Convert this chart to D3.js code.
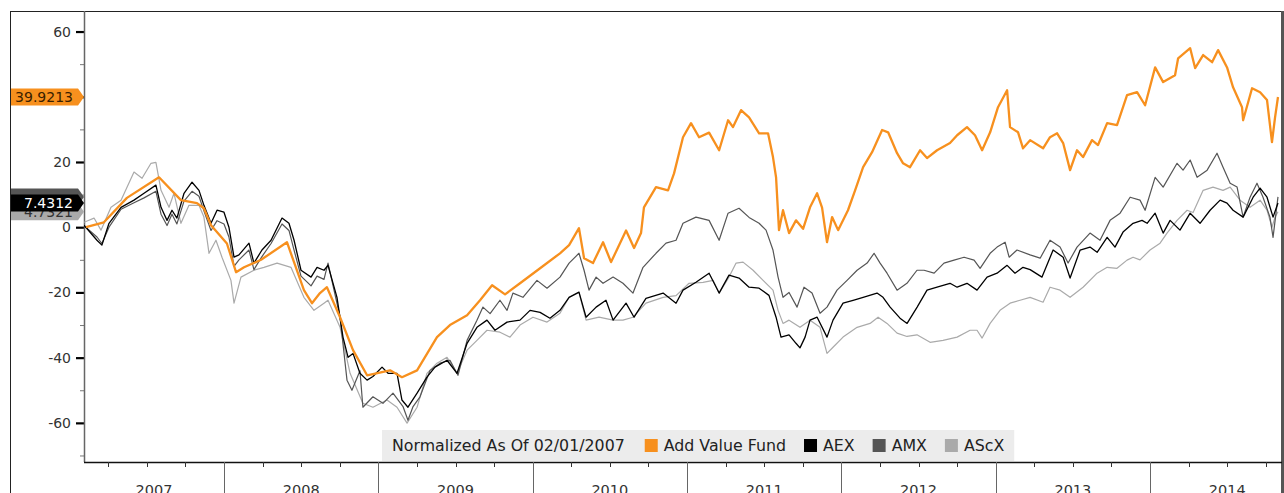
<!DOCTYPE html>
<html>
<head>
<meta charset="utf-8">
<script src="https://cdn.jsdelivr.net/npm/d3@7"></script>
<style>
  body { margin: 0; background: #fff; }
  svg { display: block; font-family: "DejaVu Sans", Verdana, sans-serif; }
</style>
</head>
<body>
<svg id="chart" width="1284" height="493"></svg>
<script>
// dates as decimal years, values normalized to 0 at 02/01/2007
const fundYears = [2007.106, 2007.222, 2007.371, 2007.579, 2007.721, 2007.825, 2007.870, 2007.916, 2008.019, 2008.078,
  2008.130, 2008.240, 2008.408, 2008.518, 2008.570, 2008.622, 2008.667, 2008.752, 2008.836, 2008.927,
  2009.076, 2009.153, 2009.251, 2009.380, 2009.464, 2009.575, 2009.659, 2009.737, 2009.821, 2009.918,
  2010.048, 2010.177, 2010.236, 2010.300, 2010.333, 2010.391, 2010.456, 2010.508, 2010.605, 2010.657,
  2010.702, 2010.721, 2010.799, 2010.877, 2010.916, 2010.974, 2011.026, 2011.078, 2011.143, 2011.208,
  2011.266, 2011.298, 2011.350, 2011.402, 2011.467, 2011.525, 2011.557, 2011.577, 2011.596, 2011.622,
  2011.661, 2011.706, 2011.752, 2011.797, 2011.843, 2011.875, 2011.907, 2011.940, 2011.979, 2012.043,
  2012.089, 2012.141, 2012.199, 2012.264, 2012.303, 2012.361, 2012.400, 2012.445, 2012.510, 2012.555,
  2012.620, 2012.704, 2012.750, 2012.814, 2012.866, 2012.912, 2012.964, 2013.015, 2013.074, 2013.093,
  2013.145, 2013.177, 2013.223, 2013.307, 2013.352, 2013.398, 2013.437, 2013.482, 2013.527, 2013.566,
  2013.624, 2013.663, 2013.722, 2013.786, 2013.851, 2013.916, 2013.968, 2014.033, 2014.085, 2014.162,
  2014.182, 2014.260, 2014.292, 2014.344, 2014.402, 2014.441, 2014.499, 2014.538, 2014.596, 2014.603,
  2014.661, 2014.713, 2014.758, 2014.790, 2014.810, 2014.829];
const fundValues = [0, 1.5, 9, 15.3, 8.3, 7.4, 5.8, 0.6, -5, -13.8,
  -12.3, -10, -4.6, -19.3, -23.3, -20.2, -18.4, -27.6, -37.7, -45.4,
  -43.9, -46, -43.9, -33.7, -30, -27, -22.4, -17.8, -20.6, -17.2,
  -12.6, -8, -5.5, -0.3, -9.5, -11, -4.6, -10.7, -1, -6.4,
  -1.8, 6.1, 12.3, 11.3, 16.5, 27.6, 31.9, 27.6, 29, 23.6,
  32.8, 30.7, 35.9, 33.7, 28.8, 28.8, 21.5, 15.3, -0.9, 5.2,
  -1.8, 2.1, -0.5, 6.1, 10.4, 6, -4.6, 3.1, -0.9, 5.2,
  11.3, 18.4, 23, 29.8, 29.1, 22.7, 19.6, 18.4, 23.6, 21.2,
  23.6, 25.8, 28.2, 30.7, 28.2, 23.6, 29.1, 36.8, 42, 30.7,
  29.1, 24.2, 26.7, 24.2, 27.6, 28.8, 25.8, 17.5, 23.6, 21.5,
  26.7, 25.2, 31.9, 31.3, 40.5, 41.4, 37.4, 49, 44.5, 46.6,
  51.8, 54.9, 48.8, 52.8, 50.6, 54.3, 49, 42.9, 36.8, 32.8,
  42.6, 41.4, 39, 26.1, 33.7, 39.9213];

const aexYears = [2007.093, 2007.177, 2007.209, 2007.255, 2007.333, 2007.417, 2007.482, 2007.559, 2007.592, 2007.631,
  2007.663, 2007.695, 2007.741, 2007.793, 2007.838, 2007.870, 2007.916, 2007.955, 2008.000, 2008.032,
  2008.065, 2008.097, 2008.162, 2008.194, 2008.246, 2008.305, 2008.376, 2008.421, 2008.454, 2008.499,
  2008.564, 2008.603, 2008.648, 2008.674, 2008.732, 2008.771, 2008.804, 2008.836, 2008.881, 2008.927,
  2008.965, 2009.024, 2009.063, 2009.121, 2009.153, 2009.192, 2009.251, 2009.315, 2009.367, 2009.445,
  2009.510, 2009.575, 2009.639, 2009.704, 2009.756, 2009.834, 2009.918, 2009.983, 2010.048, 2010.112,
  2010.177, 2010.236, 2010.300, 2010.346, 2010.411, 2010.475, 2010.521, 2010.605, 2010.657, 2010.734,
  2010.845, 2010.929, 2010.974, 2011.058, 2011.143, 2011.208, 2011.272, 2011.337, 2011.402, 2011.467,
  2011.531, 2011.577, 2011.609, 2011.661, 2011.706, 2011.732, 2011.765, 2011.797, 2011.843, 2011.907,
  2011.946, 2012.011, 2012.076, 2012.141, 2012.231, 2012.270, 2012.316, 2012.380, 2012.426, 2012.491,
  2012.555, 2012.620, 2012.704, 2012.750, 2012.814, 2012.879, 2012.944, 2013.009, 2013.074, 2013.125,
  2013.177, 2013.223, 2013.300, 2013.372, 2013.437, 2013.482, 2013.547, 2013.611, 2013.657, 2013.722,
  2013.773, 2013.825, 2013.890, 2013.948, 2013.981, 2014.033, 2014.085, 2014.130, 2014.194, 2014.260,
  2014.324, 2014.389, 2014.454, 2014.499, 2014.538, 2014.603, 2014.668, 2014.713, 2014.758, 2014.797,
  2014.829];
const aexValues = [0.6, -4, -5.5, 1.2, 6.1, 8.3, 10.4, 12.9, 6.1, 2.1,
  5.2, 2.8, 10.4, 13.8, 11.3, 6.7, 1.2, 5.2, 4.6, 0,
  -9.2, -8.5, -4.9, -11, -7, -4, 2.8, 1.2, -4, -13.2,
  -15.3, -12.3, -13.2, -11.7, -21.5, -33.7, -39.9, -38.7, -44.8, -46.9,
  -45.8, -42.9, -44.8, -44.8, -53, -55.2, -50.9, -46, -42.9, -40.8,
  -44.8, -35.6, -30.7, -28.5, -31.6, -29.1, -28.5, -25.5, -26.1, -27.9,
  -25.5, -21.5, -19.9, -27.6, -24.5, -22.4, -28.5, -23.3, -27.6, -21.8,
  -20.2, -23.3, -19.3, -16.9, -14.1, -20.2, -14.7, -15.6, -18.4, -18.7,
  -20.9, -27.6, -33.7, -33, -35.6, -37, -33.7, -28.5, -27.6, -33.7,
  -28.5, -23.3, -22.4, -21.5, -20.2, -21.5, -24.5, -27.9, -29.5, -24.5,
  -19.3, -18.4, -17.2, -18.4, -17.2, -19.3, -15.3, -14.1, -11.7, -14.1,
  -12.3, -13, -15.3, -7, -9.2, -15.6, -7, -6.1, -7.7, -3.1,
  -6.1, -1.5, 1.2, 2.1, 1.2, 4.3, -1.8, 2.1, -0.9, 4.3,
  1.2, 5.2, 8.3, 7.4, 5.2, 3.1, 9.2, 12, 9.2, 3.1,
  7.4312];

const amxYears = [2007.093, 2007.177, 2007.209, 2007.255, 2007.333, 2007.417, 2007.482, 2007.559, 2007.592, 2007.631,
  2007.663, 2007.695, 2007.741, 2007.793, 2007.838, 2007.870, 2007.916, 2007.955, 2008.000, 2008.032,
  2008.065, 2008.097, 2008.162, 2008.194, 2008.246, 2008.305, 2008.376, 2008.421, 2008.454, 2008.499,
  2008.564, 2008.603, 2008.648, 2008.674, 2008.752, 2008.797, 2008.829, 2008.881, 2008.900, 2008.965,
  2009.030, 2009.095, 2009.160, 2009.192, 2009.225, 2009.270, 2009.335, 2009.400, 2009.464, 2009.516,
  2009.575, 2009.639, 2009.678, 2009.724, 2009.788, 2009.834, 2009.872, 2009.937, 2010.028, 2010.093,
  2010.177, 2010.236, 2010.300, 2010.333, 2010.365, 2010.411, 2010.456, 2010.521, 2010.585, 2010.650,
  2010.715, 2010.799, 2010.864, 2010.929, 2010.974, 2011.058, 2011.143, 2011.208, 2011.266, 2011.337,
  2011.402, 2011.467, 2011.512, 2011.557, 2011.590, 2011.622, 2011.661, 2011.713, 2011.758, 2011.810,
  2011.862, 2011.907, 2011.972, 2012.037, 2012.102, 2012.167, 2012.212, 2012.251, 2012.296, 2012.361,
  2012.425, 2012.490, 2012.536, 2012.601, 2012.665, 2012.730, 2012.795, 2012.860, 2012.899, 2012.964,
  2013.009, 2013.061, 2013.087, 2013.138, 2013.223, 2013.288, 2013.352, 2013.417, 2013.469, 2013.527,
  2013.611, 2013.676, 2013.741, 2013.806, 2013.871, 2013.935, 2013.968, 2014.033, 2014.085, 2014.175,
  2014.214, 2014.260, 2014.305, 2014.370, 2014.434, 2014.473, 2014.519, 2014.564, 2014.603, 2014.648,
  2014.693, 2014.732, 2014.777, 2014.797, 2014.829];
const amxValues = [0.5, -3, -5, 0, 5.5, 7.5, 9, 11, 4, 0.5,
  4, 1, 8, 11, 9.5, 5, -1, 2, 1, -3,
  -12, -10, -7, -13, -9, -5, 1, -1, -7, -15,
  -18, -15, -16, -11, -27.6, -46.9, -50, -44, -55.2, -52,
  -54, -50.9, -55, -59.2, -55, -52, -43.9, -41.7, -40.8, -45.4,
  -34.7, -28.5, -24.5, -26.5, -22.4, -25.5, -20.2, -21.5, -16.3, -18.7,
  -15.3, -11, -8, -13.2, -19.3, -15.3, -17.2, -15.3, -17.2, -20.2,
  -12.3, -8, -4.9, -4, 1.2, 3.1, 2.1, -4, 4.3, 5.8,
  3, 1.2, -0.9, -7, -15.3, -21.5, -20, -24.5, -18.4, -20.2,
  -26.4, -24.5, -19.3, -16.3, -13.2, -11, -8, -11, -14.1, -19.3,
  -17.2, -13.2, -13.2, -14.1, -11, -10.1, -9.2, -10.1, -12.6, -8,
  -6.1, -4.6, -9.2, -7, -8.5, -9.5, -4, -6.1, -11, -6.1,
  -1.8, -4, 2.1, 4.3, 9.2, 8.3, 5.2, 15.3, 12.3, 19.6,
  17.5, 20.6, 15.3, 17.5, 22.7, 18.4, 13.5, 12.3, 3.1, 9.2,
  13.5, 9.2, 3.1, -3.1, 9.3];

const ascxYears = [2007.093, 2007.158, 2007.203, 2007.268, 2007.333, 2007.417, 2007.469, 2007.527, 2007.559, 2007.592,
  2007.644, 2007.676, 2007.721, 2007.773, 2007.838, 2007.870, 2007.903, 2007.948, 2007.987, 2008.045,
  2008.065, 2008.110, 2008.194, 2008.259, 2008.344, 2008.434, 2008.518, 2008.583, 2008.648, 2008.674,
  2008.752, 2008.817, 2008.900, 2008.965, 2009.056, 2009.121, 2009.186, 2009.251, 2009.315, 2009.380,
  2009.445, 2009.510, 2009.575, 2009.639, 2009.704, 2009.788, 2009.853, 2009.918, 2010.002, 2010.093,
  2010.177, 2010.236, 2010.300, 2010.346, 2010.430, 2010.521, 2010.585, 2010.650, 2010.734, 2010.845,
  2010.929, 2011.013, 2011.104, 2011.169, 2011.208, 2011.272, 2011.318, 2011.363, 2011.428, 2011.493,
  2011.557, 2011.590, 2011.622, 2011.661, 2011.732, 2011.797, 2011.862, 2011.907, 2011.946, 2012.011,
  2012.102, 2012.186, 2012.238, 2012.296, 2012.361, 2012.425, 2012.490, 2012.575, 2012.659, 2012.750,
  2012.834, 2012.879, 2012.912, 2012.964, 2013.028, 2013.093, 2013.158, 2013.223, 2013.307, 2013.352,
  2013.417, 2013.482, 2013.566, 2013.657, 2013.722, 2013.786, 2013.851, 2013.890, 2013.935, 2014.000,
  2014.065, 2014.110, 2014.175, 2014.240, 2014.279, 2014.344, 2014.408, 2014.473, 2014.519, 2014.583,
  2014.648, 2014.713, 2014.758, 2014.790, 2014.810, 2014.829];
const ascxValues = [1.5, 2.8, -0.9, 6.1, 8.3, 16.9, 15, 19.6, 19.9, 11.3,
  6.1, 10.4, 1.2, 6.7, 6.7, 3.1, -8, -4, -9.2, -16.3,
  -23.3, -15.3, -13.2, -12.3, -11, -12.3, -21.5, -25.5, -23.3, -22.4,
  -30.7, -44.8, -54, -55.2, -53, -55.2, -60.1, -55.2, -44.8, -41.7,
  -39.9, -44.8, -37.7, -34.7, -31.6, -32.2, -33.7, -30, -27.6, -29.1,
  -26.4, -21.5, -20, -28.5, -27.6, -28.5, -28.5, -27.6, -23.3, -21.5,
  -21, -17.2, -16.9, -16.3, -20.2, -15.3, -11, -10.7, -13.2, -16.3,
  -19.3, -25.5, -29.5, -28.5, -30.7, -28.5, -30.7, -38.7, -36.8, -33.7,
  -30.7, -29.5, -27.6, -29.5, -32.5, -33.5, -33, -35.3, -34.7, -33.7,
  -31.6, -31.6, -34, -29.5, -25.5, -23.3, -22.4, -21.5, -23, -18.4,
  -19.3, -21.5, -18.4, -14.1, -12.3, -12.6, -10.1, -9.2, -10, -7,
  -4.9, -1.8, 2.1, 5.2, 4.5, 11.3, 12.3, 11.3, 12.3, 8.3,
  6.1, 8.3, 5.2, 0, 3.1, 4.7321];

const yMajor = [-60, -40, -20, 0, 20, 40, 60];
const yMinor = [-70, -50, -30, -10, 10, 30, 50];
const years = [2007, 2008, 2009, 2010, 2011, 2012, 2013, 2014];
const legendTitle = "Normalized As Of 02/01/2007";

// tag text: the AMX tag sits under the AEX one, its number is not shown
const series = [
  { name: "AScX", years: ascxYears, values: ascxValues, color: "#aaaaaa", width: 1.2, label: "4.7321", text: "#333" },
  { name: "AMX", years: amxYears, values: amxValues, color: "#555555", width: 1.2, label: "", text: "#fff" },
  { name: "AEX", years: aexYears, values: aexValues, color: "#000000", width: 1.3, label: "7.4312", text: "#fff" },
  { name: "Add Value Fund", years: fundYears, values: fundValues, color: "#f7901e", width: 2.3, label: "39.9213", text: "#3a2000" }
];

const svg = d3.select("#chart");
const W = 1284, H = 493;
const plot = { left: 84, right: 1282, top: 11, bottom: 462 };

const x = d3.scaleLinear().domain([2007.093, 2014.855]).range([plot.left, plot.right]);
const y = d3.scaleLinear().domain([-72, 66.3]).range([plot.bottom, plot.top]);

// frame
svg.append("line").attr("x1", 10).attr("x2", plot.right).attr("y1", 11.5).attr("y2", 11.5)
  .attr("stroke", "#222").attr("stroke-width", 1);
svg.append("line").attr("x1", 10.5).attr("x2", 10.5).attr("y1", 11).attr("y2", H)
  .attr("stroke", "#222").attr("stroke-width", 1);
svg.append("line").attr("x1", 1282.5).attr("x2", 1282.5).attr("y1", 11).attr("y2", H)
  .attr("stroke", "#555").attr("stroke-width", 3);

// clip
svg.append("clipPath").attr("id", "clip").append("rect")
  .attr("x", plot.left).attr("y", plot.top)
  .attr("width", plot.right - plot.left).attr("height", plot.bottom - plot.top);

// y axis (the 40 label sits under the fund tag, so it is left blank)
const yMinorAxis = svg.append("g").attr("transform", `translate(${plot.left},0)`)
  .call(d3.axisLeft(y).tickValues(yMinor).tickSize(4).tickFormat(""));
yMinorAxis.select(".domain").remove();
yMinorAxis.selectAll("line").attr("stroke", "#777");

const yAxis = svg.append("g").attr("transform", `translate(${plot.left},0)`)
  .call(d3.axisLeft(y).tickValues(yMajor).tickSize(8).tickPadding(5)
    .tickFormat(d => d === 40 ? "" : String(d)));
yAxis.select(".domain").remove();
yAxis.selectAll("line").attr("stroke", "#000").attr("stroke-width", 2.2);
yAxis.selectAll("text")
  .attr("font-family", "DejaVu Sans, Verdana, sans-serif")
  .attr("font-size", 14).attr("fill", "#333");

svg.append("line").attr("x1", plot.left + 0.5).attr("x2", plot.left + 0.5)
  .attr("y1", plot.top).attr("y2", plot.bottom)
  .attr("stroke", "#666").attr("stroke-width", 1.5);

// x axis
svg.append("line").attr("x1", plot.left).attr("x2", plot.right)
  .attr("y1", plot.bottom + 0.5).attr("y2", plot.bottom + 0.5)
  .attr("stroke", "#111").attr("stroke-width", 1.5);

const quarters = [];
years.forEach(yr => [0.25, 0.5, 0.75].forEach(q => {
  if (yr + q > x.domain()[0] && yr + q < x.domain()[1]) quarters.push(yr + q);
}));
svg.append("g").selectAll("line").data(quarters).join("line")
  .attr("x1", d => Math.round(x(d)) + 0.5).attr("x2", d => Math.round(x(d)) + 0.5)
  .attr("y1", plot.bottom).attr("y2", plot.bottom + 5)
  .attr("stroke", "#333").attr("stroke-width", 1);

svg.append("g").selectAll("line").data(years.slice(1)).join("line")
  .attr("x1", d => Math.round(x(d)) + 0.5).attr("x2", d => Math.round(x(d)) + 0.5)
  .attr("y1", plot.bottom).attr("y2", H)
  .attr("stroke", "#666").attr("stroke-width", 1);

svg.append("g").selectAll("text").data(years).join("text")
  .attr("x", d => (Math.max(x(d), plot.left) + x(d + 1)) / 2)
  .attr("y", 495)
  .attr("text-anchor", "middle")
  .attr("font-size", 14.5).attr("fill", "#333")
  .text(d => d);

// lines
const line = d3.line().x(d => x(d[0])).y(d => y(d[1]));
const lines = svg.append("g").attr("clip-path", "url(#clip)");
series.forEach(s => {
  lines.append("path")
    .datum(s.years.map((yr, i) => [yr, s.values[i]]))
    .attr("fill", "none")
    .attr("stroke", s.color)
    .attr("stroke-width", s.width)
    .attr("stroke-linejoin", "round")
    .attr("d", line);
});

// last value tags on the left axis
const tagOrder = [series[1], series[0], series[2], series[3]];
tagOrder.forEach(s => {
  const v = s.values[s.values.length - 1];
  const cy = y(v);
  const g = svg.append("g");
  g.append("path")
    .attr("d", `M11,${cy - 8.5} L78,${cy - 8.5} L84,${cy} L78,${cy + 8.5} L11,${cy + 8.5} Z`)
    .attr("fill", s.color);
  if (s.label) {
    g.append("text")
      .attr("x", 73).attr("y", cy + 5)
      .attr("text-anchor", "end")
      .attr("font-size", 14).attr("fill", s.text)
      .text(s.label);
  }
});

// legend
const legend = svg.append("g");
const legendBox = legend.append("rect")
  .attr("x", 382).attr("y", 430).attr("height", 31)
  .attr("fill", "#ececec");
let lx = 392;
const ly = 451;
const t0 = legend.append("text").attr("x", lx).attr("y", ly)
  .attr("font-size", 15.8).attr("fill", "#222").text(legendTitle);
lx += t0.node().getComputedTextLength() + 20;
series.slice().reverse().forEach(s => {
  legend.append("rect").attr("x", lx).attr("y", ly - 12).attr("width", 13).attr("height", 13)
    .attr("fill", s.color);
  lx += 19;
  const t = legend.append("text").attr("x", lx).attr("y", ly)
    .attr("font-size", 15.8).attr("fill", "#222").text(s.name);
  lx += t.node().getComputedTextLength() + 18;
});
legendBox.attr("width", lx - 382 - 8);
</script>
</body>
</html>
